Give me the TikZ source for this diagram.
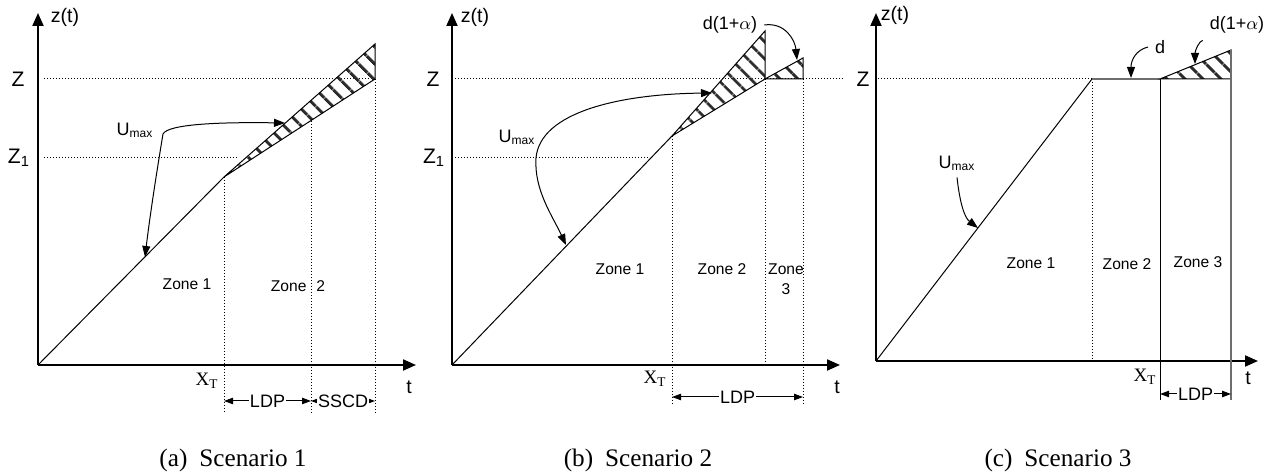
\documentclass[tikz,border=0pt]{standalone}
\usepackage{fontspec}
\setmainfont{Liberation Sans}
\newfontfamily\capfont{Liberation Serif}
\usetikzlibrary{arrows.meta,patterns.meta}

\definecolor{hatchGray}{HTML}{2B2B2B}
\definecolor{edgeGray}{HTML}{6E6E6E}

\begin{document}
\begin{tikzpicture}[x=0.5pt,y=-0.5pt,font=\fontsize{7.8}{10}\selectfont,
  axis/.style={line width=1pt,-{Triangle[length=6.5pt,width=5.5pt]}},
  graph/.style={line width=0.5pt},
  guide/.style={line width=0.5pt,dash pattern=on 0.5pt off 1pt},
  hatched/.style={graph,pattern={Lines[angle=-45,distance=6.5pt,line width=1.7pt]},pattern color=hatchGray},
  pointer/.style={line width=0.5pt,-{Triangle[length=5.5pt,width=4pt]}},
  twopointer/.style={line width=0.5pt,{Triangle[length=5.5pt,width=4pt]}-{Triangle[length=5.5pt,width=4pt]}},
  span/.style={line width=0.5pt,{Triangle[length=4.5pt,width=3.2pt]}-{Triangle[length=4.5pt,width=3.2pt]}},
  spanlabel/.style={fill=white,inner sep=0.6pt,font=\fontsize{9}{10}\selectfont},
  level/.style={font=\fontsize{10.5}{12}\selectfont},
  axislabel/.style={font=\fontsize{9.8}{11}\selectfont},
  umax/.style={font=\fontsize{9}{10}\selectfont},
  xt/.style={font=\capfont\fontsize{9.5}{10}\selectfont},
  caption/.style={font=\capfont\fontsize{12.6}{14}\selectfont}]
  \useasboundingbox (0,0) rectangle (1267,474);

  \draw[axis] (38,365) -- (38,13);
  \draw[axis] (38,365) -- (416,365);
  \node[axislabel] (a-zt) at (65,17) {z(t)};
  \node[axislabel] (a-t) at (409,387) {t};
  \node[level] (a-Z) at (18,79) {Z};
  \node[level] (a-Z1) at (19,158) {Z\textsubscript{1}};
  \draw[guide] (44,79) -- (373,79);
  \draw[guide] (44,158) -- (237,158);
  \draw[hatched] (224,177) -- (375,44) -- (375,79) -- cycle;
  \draw[graph] (38,365) -- (224,177);
  \foreach \x/\y in {224/177,311/121,375/79}
    \draw[guide] (\x,\y) -- (\x,413);
  \coordinate (a-s1) at (224,401);
  \coordinate (a-s2) at (311,401);
  \coordinate (a-s3) at (375,401);
  \draw[span] (a-s1) -- node[spanlabel] (a-ldp) {LDP} (a-s2);
  \draw[span] (a-s2) -- node[spanlabel] (a-sscd) {SSCD} (a-s3);
  \node[xt] (a-xt) at (207,381) {X\textsubscript{T}};
  \node[umax] (a-umax) at (135,130) {U\textsubscript{max}};
  \coordinate (a-bend) at (163,134);
  \coordinate (a-hitU) at (285,123);
  \coordinate (a-hitL) at (145,257);
  \draw[twopointer] (a-hitU) .. controls (220,122) and (168,124) .. (a-bend)
    .. controls (157,170) and (150,215) .. (a-hitL);
  \node (a-zone1) at (187,284) {Zone 1};
  \node (a-zone2) at (298,286) {Zone\hspace{5pt}2};
  \node[caption] (a-cap) at (233,460) {(a)\hspace{6pt}Scenario 1};

  \draw[axis] (452,365) -- (452,13);
  \draw[axis] (452,365) -- (840,365);
  \node[axislabel] (b-zt) at (475,17) {z(t)};
  \node[axislabel] (b-t) at (837,387) {t};
  \node[level] (b-Z) at (433,79) {Z};
  \node[level] (b-Z1) at (434,158) {Z\textsubscript{1}};
  \draw[guide] (455,79) -- (843,79);
  \draw[guide] (455,158) -- (650,158);
  \draw[hatched] (672,136) -- (765,31) -- (765,79) -- cycle;
  \draw[hatched] (765,79) -- (803,58) -- (803,79) -- cycle;
  \draw[graph] (452,365) -- (672,136);
  \foreach \x/\y/\e in {672/136/405,765/79/365,803/79/405}
    \draw[guide] (\x,\y) -- (\x,\e);
  \coordinate (b-s1) at (672,397);
  \coordinate (b-s2) at (803,397);
  \draw[span] (b-s1) -- node[spanlabel] (b-ldp) {LDP} (b-s2);
  \node[xt] (b-xt) at (655,379) {X\textsubscript{T}};
  \node[umax] (b-umax) at (517,137) {U\textsubscript{max}};
  \coordinate (b-hitU) at (712,93);
  \coordinate (b-turn) at (536,158);
  \coordinate (b-hitL) at (566,245);
  \draw[twopointer] (b-hitU) .. controls (620,94) and (540,112) .. (b-turn)
    .. controls (534,190) and (552,215) .. (b-hitL);
  \node[umax] (b-dalpha) at (730,25) {d(1+$\alpha$)};
  \coordinate (b-hitD) at (797,60);
  \draw[pointer] (b-dalpha.east) .. controls (785,22) and (795,40) .. (b-hitD);
  \node (b-zone1) at (620,269) {Zone 1};
  \node (b-zone2) at (722,269) {Zone 2};
  \node[align=center] (b-zone3) at (786,279) {Zone\\3};
  \node[caption] (b-cap) at (638,460) {(b)\hspace{6pt}Scenario 2};

  \draw[axis] (876,361) -- (876,13);
  \draw[axis] (876,361) -- (1258,361);
  \node[axislabel] (c-zt) at (895,15) {z(t)};
  \node[axislabel] (c-t) at (1248,378) {t};
  \node[level] (c-Z) at (863,79) {Z};
  \draw[guide] (878,79) -- (1092,79);
  \draw[guide] (1092,79) -- (1092,361);
  \draw[graph] (876,361) -- (1092,79);
  \draw[edgeGray,line width=0.8pt] (1092,79) -- (1160,79);
  \draw[hatched] (1160,79) -- (1231,50) -- (1231,79) -- cycle;
  \draw[graph] (1160,79) -- (1160,400);
  \draw[edgeGray,line width=1pt] (1231,50) -- (1231,400);
  \coordinate (c-s1) at (1160,394);
  \coordinate (c-s2) at (1231,394);
  \draw[span] (c-s1) -- node[spanlabel] (c-ldp) {LDP} (c-s2);
  \node[xt] (c-xt) at (1145,377) {X\textsubscript{T}};
  \node[umax] (c-umax) at (957,163) {U\textsubscript{max}};
  \coordinate (c-hitU) at (978,228);
  \draw[pointer] (c-umax.south) .. controls (960,205) and (965,218) .. (c-hitU);
  \node[umax] (c-d) at (1160,47) {d};
  \coordinate (c-hitd) at (1131,78);
  \draw[pointer] (c-d.west) .. controls (1136,50) and (1131,60) .. (c-hitd);
  \node[umax] (c-dalpha) at (1237,25) {d(1+$\alpha$)};
  \coordinate (c-hitD) at (1195,64);
  \draw[pointer] (c-dalpha.south west) .. controls (1200,40) and (1195,50) .. (c-hitD);
  \node (c-zone1) at (1031,263) {Zone 1};
  \node (c-zone2) at (1127,264) {Zone 2};
  \node (c-zone3) at (1198,262) {Zone 3};
  \node[caption] (c-cap) at (1058,460) {(c)\hspace{6pt}Scenario 3};
\end{tikzpicture}
\end{document}
